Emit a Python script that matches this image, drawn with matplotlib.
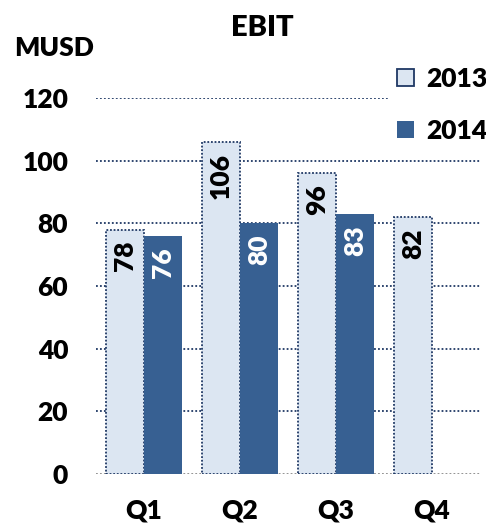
import matplotlib
matplotlib.use("Agg")
import matplotlib.pyplot as plt
from matplotlib.patches import Patch
import numpy as np

categories = ["Q1", "Q2", "Q3", "Q4"]
values_2013 = [78, 106, 96, 82]
values_2014 = [76, 80, 83, None]
series_names = ["2013", "2014"]
yticks = [0, 20, 40, 60, 80, 100, 120]

plt.rcParams['font.family'] = ['Lato', 'DejaVu Sans']
WT = "heavy"

LIGHT = "#dce6f2"
DARK = "#376092"
NAVY = "#1f3864"
FS = 19

fig = plt.figure(figsize=(4.86, 5.27), dpi=100)
ax = fig.add_axes([96/486, 1-474/527, (480-96)/486, (474-98)/527])
ax.set_ylim(0, 120)
ax.set_xlim(-0.5, 3.5)

x = np.arange(len(categories))
w = 0.4
for i, v in enumerate(values_2013):
    ax.bar(x[i] - w/2, v, width=w, color=LIGHT, edgecolor=NAVY,
           linestyle=(0, (1, 1)), linewidth=1.3, zorder=3)
    ax.annotate(str(v), (x[i] - w/2, v), xytext=(0, -8), textcoords="offset points",
                rotation=90, ha="center", va="top", fontsize=FS, fontweight=WT,
                color="black", zorder=4)
for i, v in enumerate(values_2014):
    if v is None:
        continue
    ax.bar(x[i] + w/2, v, width=w, color=DARK, edgecolor="none", zorder=3)
    ax.annotate(str(v), (x[i] + w/2, v), xytext=(0, -8), textcoords="offset points",
                rotation=90, ha="center", va="top", fontsize=FS, fontweight=WT,
                color="white", zorder=4)

for t in yticks[1:]:
    ax.axhline(t, color=NAVY, linestyle=(0, (1, 1.2)), linewidth=1.3, zorder=1)
ax.axhline(0, color="#8a8a8a", linestyle=(0, (1, 1.2)), linewidth=1.3, zorder=2)

for s in ax.spines.values():
    s.set_visible(False)
ax.set_yticks(yticks)
ax.set_yticklabels([str(t) for t in yticks], fontsize=FS, fontweight=WT)
ax.tick_params(axis="y", length=0, pad=20)
ax.set_xticks(x)
ax.set_xticklabels(categories, fontsize=FS, fontweight=WT)
ax.tick_params(axis="x", length=0, pad=18)

fig.text(262/486, 1-28/527, "EBIT", ha="center", va="center", fontsize=21, fontweight=WT)
fig.text(14/486, 1-48/527, "MUSD", ha="left", va="center", fontsize=FS, fontweight=WT)

handles = [Patch(facecolor=LIGHT, edgecolor=NAVY, linewidth=1.3),
           Patch(facecolor=DARK, edgecolor="none")]
leg = fig.legend(handles, series_names, loc="upper left",
                 bbox_to_anchor=(389/486, 1-59/527), frameon=True,
                 handlelength=0.65, handleheight=0.65,
                 handletextpad=0.45, labelspacing=1.05, borderpad=0.3,
                 borderaxespad=0,
                 prop={"weight": WT, "size": FS})
leg.get_frame().set_edgecolor("none")
leg.get_frame().set_facecolor("white")
leg.get_frame().set_alpha(1)

fig.savefig("out.png", dpi=100)
